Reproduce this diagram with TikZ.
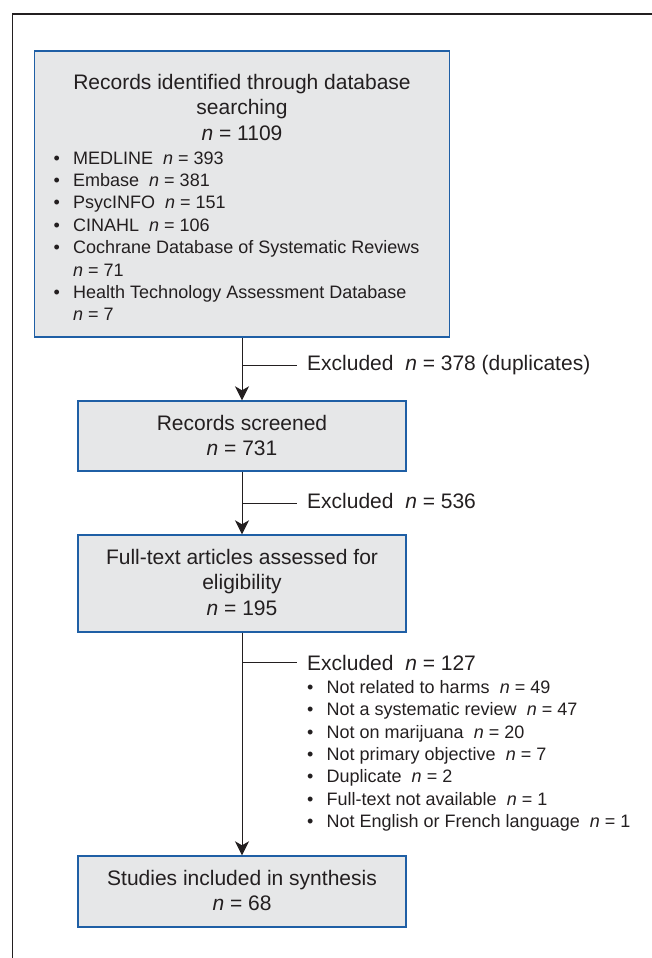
\documentclass[tikz,border=0pt]{standalone}
\usepackage{fontspec}
\setmainfont{Liberation Sans}
\usetikzlibrary{arrows.meta}
\definecolor{boxfill}{HTML}{E6E7E8}
\definecolor{boxline}{HTML}{1F5FA5}
\definecolor{ink}{HTML}{231F20}
\newcommand{\nn}{\textit{n}}
\newcommand{\bul}[1]{\makebox[19.5pt][l]{•}#1}
\begin{document}
\begin{tikzpicture}[x=1pt,y=-1pt,
  box/.style={draw=boxline, fill=boxfill, line width=1.4pt, inner sep=0pt},
  big/.style={font=\fontsize{21}{25.5}\selectfont, text=ink, inner sep=0pt},
  small/.style={font=\fontsize{18}{22.4}\selectfont, text=ink, inner sep=0pt},
  conn/.style={draw=ink, line width=1pt},
  arr/.style={conn, -{Stealth[length=14pt,width=14pt,inset=4pt]}}]
\useasboundingbox (0,0) rectangle (652,958);
\draw[ink, line width=1.5pt] (12.7,960) -- (12.7,14) -- (654,14);

% boxes
\node[box, minimum width=415pt, minimum height=286pt] (b1) at (242,194) {};
\node[box, minimum width=328pt, minimum height=70pt] (b2) at (242,436) {};
\node[box, minimum width=328pt, minimum height=97pt] (b3) at (242,583.5) {};
\node[box, minimum width=328pt, minimum height=71pt] (b4) at (242,891.5) {};

% box 1 text
\node[big, anchor=base] (t1a) at (242,89) {Records identified through database};
\node[big, anchor=base] (t1b) at (242,114.5) {searching};
\node[big, anchor=base] (t1c) at (242,140) {\nn{} = 1109};
\node[small, anchor=base west] (s1) at (53.5,164) {\bul{MEDLINE\ \ \nn{} = 393}};
\node[small, anchor=base west] (s2) at (53.5,186.4) {\bul{Embase\ \ \nn{} = 381}};
\node[small, anchor=base west] (s3) at (53.5,208.8) {\bul{PsycINFO\ \ \nn{} = 151}};
\node[small, anchor=base west] (s4) at (53.5,231.2) {\bul{CINAHL\ \ \nn{} = 106}};
\node[small, anchor=base west] (s5) at (53.5,253.6) {\bul{Cochrane Database of Systematic Reviews}};
\node[small, anchor=base west] (s5b) at (73,276) {\nn{} = 71};
\node[small, anchor=base west] (s6) at (53.5,298.4) {\bul{Health Technology Assessment Database}};
\node[small, anchor=base west] (s6b) at (73,320.8) {\nn{} = 7};

% box 2-4 text
\node[big, anchor=base] (t2a) at (242,430) {Records screened};
\node[big, anchor=base] (t2b) at (242,455.5) {\nn{} = 731};
\node[big, anchor=base] (t3a) at (242,564) {Full-text articles assessed for};
\node[big, anchor=base] (t3b) at (242,589.5) {eligibility};
\node[big, anchor=base] (t3c) at (242,615) {\nn{} = 195};
\node[big, anchor=base] (t4a) at (242,885) {Studies included in synthesis};
\node[big, anchor=base] (t4b) at (242,910.5) {\nn{} = 68};

% exclusion labels
\node[big, anchor=base west] (e1) at (307,370) {Excluded\ \ \nn{} = 378 (duplicates)};
\node[big, anchor=base west] (e2) at (307,508) {Excluded\ \ \nn{} = 536};
\node[big, anchor=base west] (e3) at (307,670) {Excluded\ \ \nn{} = 127};
\node[small, anchor=base west] (x1) at (307,693.3) {\bul{Not related to harms\ \ \nn{} = 49}};
\node[small, anchor=base west] (x2) at (307,715.7) {\bul{Not a systematic review\ \ \nn{} = 47}};
\node[small, anchor=base west] (x3) at (307,738.1) {\bul{Not on marijuana\ \ \nn{} = 20}};
\node[small, anchor=base west] (x4) at (307,760.5) {\bul{Not primary objective\ \ \nn{} = 7}};
\node[small, anchor=base west] (x5) at (307,782.9) {\bul{Duplicate\ \ \nn{} = 2}};
\node[small, anchor=base west] (x6) at (307,805.3) {\bul{Full-text not available\ \ \nn{} = 1}};
\node[small, anchor=base west] (x7) at (307,827.7) {\bul{Not English or French language\ \ \nn{} = 1}};

% connectors
\draw[arr] (b1.south) -- (b2.north);
\draw[arr] (b2.south) -- (b3.north);
\draw[arr] (b3.south) -- (b4.north);
\coordinate (j1) at (242,365); \coordinate (k1) at (297,365);
\coordinate (j2) at (242,503); \coordinate (k2) at (297,503);
\coordinate (j3) at (242,662); \coordinate (k3) at (297,662);
\draw[conn] (j1) -- (k1);
\draw[conn] (j2) -- (k2);
\draw[conn] (j3) -- (k3);
\end{tikzpicture}
\end{document}
